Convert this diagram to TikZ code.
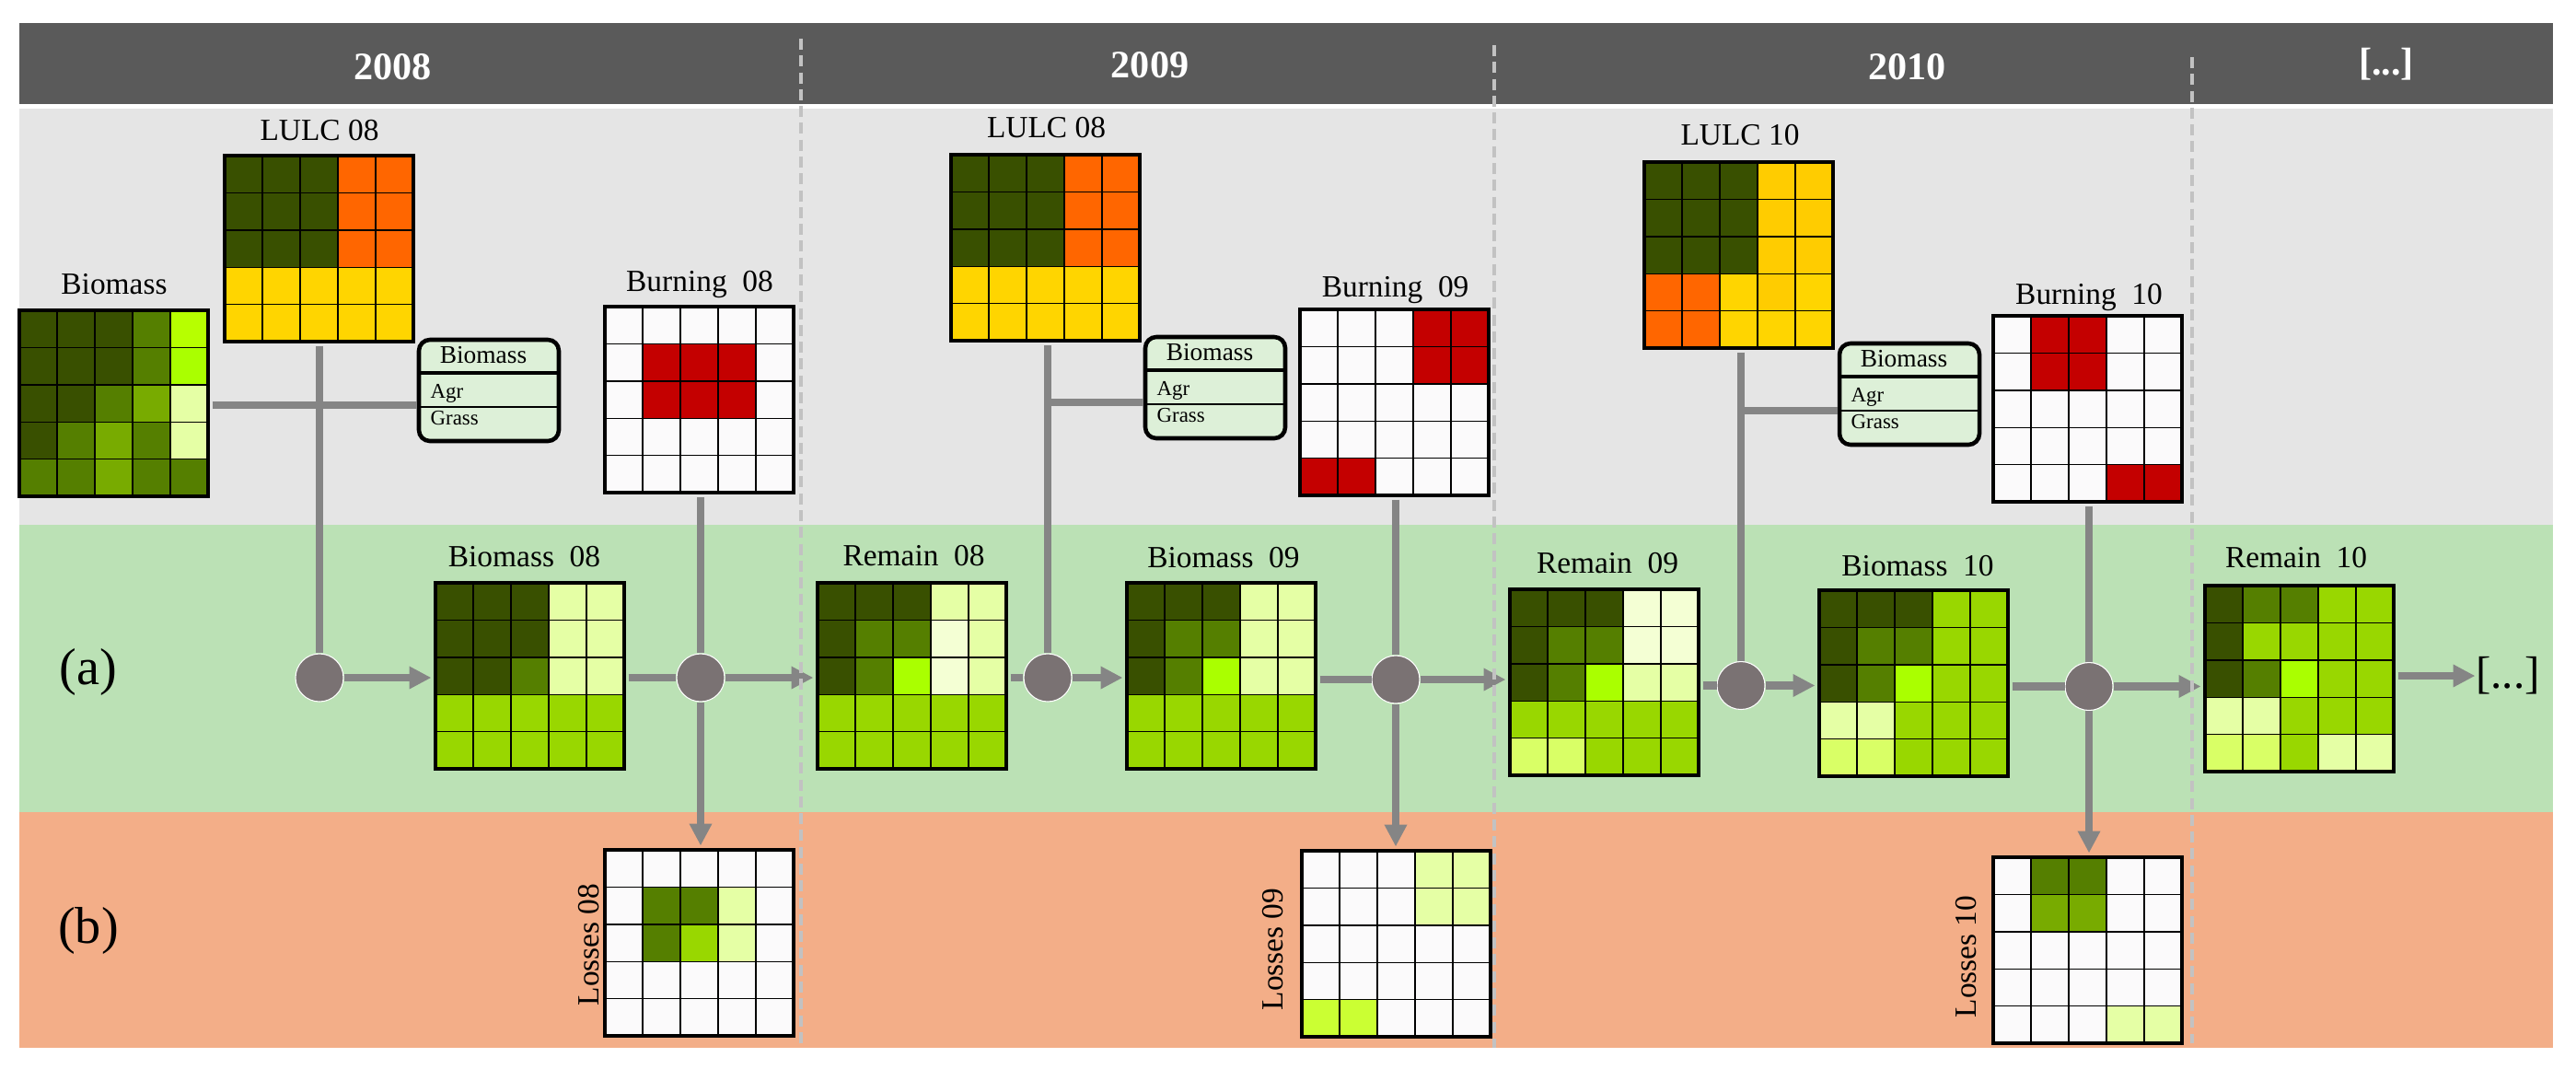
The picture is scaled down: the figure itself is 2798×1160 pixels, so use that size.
\documentclass[tikz,border=0pt]{standalone}
\usepackage{fontspec}
\setmainfont{Liberation Serif}
\usetikzlibrary{arrows.meta}

\definecolor{dk}{HTML}{395000}
\definecolor{md}{HTML}{557F00}
\definecolor{ol}{HTML}{78AB00}
\definecolor{lm}{HTML}{99D700}
\definecolor{br}{HTML}{B7FF00}
\definecolor{ac}{HTML}{AAFF00}
\definecolor{pl}{HTML}{E5FFA5}
\definecolor{fa}{HTML}{F4FFD4}
\definecolor{yl}{HTML}{D9FF66}
\definecolor{sh}{HTML}{CBFF33}
\definecolor{wh}{HTML}{FBFAFB}
\definecolor{rd}{HTML}{C40000}
\definecolor{or}{HTML}{FF6600}
\definecolor{gd}{HTML}{FFD500}
\definecolor{gc}{HTML}{FFCC00}
\definecolor{tabfill}{HTML}{DDF0D8}
\definecolor{linkgray}{HTML}{858585}
\definecolor{jointgray}{HTML}{7A7273}
\definecolor{dashgray}{HTML}{C2C2C2}
\definecolor{headband}{HTML}{5A5A5A}
\definecolor{greyband}{HTML}{E5E5E5}
\definecolor{greenband}{HTML}{BBE1B5}
\definecolor{orangeband}{HTML}{F3AE88}

\tikzset{
  gridcell/.style={draw=black, line width=.4pt},
  gridbox/.style={draw=black, line width=1pt, inner sep=0pt, outer sep=1.3pt,
    minimum width=205*.01cm, minimum height=202*.01cm},
  tabbox/.style={draw=black, line width=1.3pt, fill=tabfill, rounded corners=3.4pt,
    inner sep=0pt, outer sep=.6pt, minimum width=152*.01cm, minimum height=110*.01cm},
  gridname/.style={inner sep=0pt, text height=6.4pt, text depth=0pt, font=\fontsize{9.5}{11}\selectfont},
  tabtitle/.style={inner sep=0pt, font=\fontsize{7.8}{9}\selectfont},
  tabrow/.style={inner sep=0pt, anchor=west, font=\fontsize{6.5}{8}\selectfont},
  yearname/.style={inner sep=0pt, white, font=\fontsize{12}{14}\selectfont\bfseries},
  bandname/.style={inner sep=0pt, font=\fontsize{16}{18}\selectfont},
  link/.style={draw=linkgray, line width=2.3pt},
  flow/.style={link, -{Triangle[length=6.8pt,width=6.6pt]}},
  joint/.style={circle, draw=white, line width=.3pt, fill=jointgray, inner sep=0pt, minimum size=52*.01cm},
  yearline/.style={draw=dashgray, line width=1pt, dash pattern=on 3.4pt off 1.8pt},
}

% name, left, top, rows of cell colours
\newcommand{\gridmap}[4]{
  \foreach \rowcol [count=\nr] in {#4}
    \foreach \cellcol [count=\nc] in \rowcol
      \draw[gridcell, fill=\cellcol] ({#2+(\nc-1)*41},{#3+(\nr-1)*40.4}) rectangle +(41,40.4);
  \node[gridbox] (#1) at (#2+102.5,#3+101) {};
}
% name, left, top
\newcommand{\sumtable}[3]{
  \node[tabbox] (#1) at (#2+76,#3+55) {};
  \node[tabtitle] (#1t) at (#2+70,#3+17) {Biomass};
  \node[tabrow] (#1a) at (#2+12,#3+58) {Agr};
  \node[tabrow] (#1g) at (#2+12,#3+85) {Grass};
  \draw[line width=1.3pt] (#2,#3+36) -- (#2+152,#3+36);
  \draw[line width=.6pt] (#2,#3+73) -- (#2+152,#3+73);
}

\begin{document}
\begin{tikzpicture}[x=.01cm, y=-.01cm]
\useasboundingbox (0,0) rectangle (2798,1160);

% bands
\fill[headband] (21,25) rectangle (2773,113);
\fill[greyband] (21,118) rectangle (2773,570);
\fill[greenband] (21,570) rectangle (2773,881.5);
\fill[orangeband] (21,881.5) rectangle (2773,1138);

\node[yearname] (y08) at (426.5,73) {2008};
\node[yearname] (y09) at (1249,71) {2009};
\node[yearname] (y10) at (2071.5,73) {2010};
\node[yearname] (ymore) at (2592,70) {[...]};
\node[bandname] (ba) at (96,730) {(a)};
\node[bandname] (bb) at (96,1011) {(b)};

% 2008
\gridmap{bio}{21}{337}{{dk,dk,dk,md,br},{dk,dk,dk,md,ac},{dk,dk,md,ol,pl},{dk,md,ol,md,pl},{md,md,ol,md,md}}
\gridmap{lulcA}{244}{169}{{dk,dk,dk,or,or},{dk,dk,dk,or,or},{dk,dk,dk,or,or},{gd,gd,gd,gd,gd},{gd,gd,gd,gd,gd}}
\gridmap{burnA}{657}{333}{{wh,wh,wh,wh,wh},{wh,rd,rd,rd,wh},{wh,rd,rd,rd,wh},{wh,wh,wh,wh,wh},{wh,wh,wh,wh,wh}}
\gridmap{bioA}{473}{633}{{dk,dk,dk,pl,pl},{dk,dk,dk,pl,pl},{dk,dk,md,pl,pl},{lm,lm,lm,lm,lm},{lm,lm,lm,lm,lm}}
\gridmap{lossA}{657}{923}{{wh,wh,wh,wh,wh},{wh,md,md,pl,wh},{wh,md,lm,pl,wh},{wh,wh,wh,wh,wh},{wh,wh,wh,wh,wh}}
\sumtable{tabA}{455}{369}
\node[gridname] (tbio) at (124,308) {Biomass};
\node[gridname] (tlulcA) at (347,141) {LULC 08};
\node[gridname] (tburnA) at (760,305) {Burning\ \ 08};
\node[gridname] (tbioA) at (569.5,604) {Biomass\ \ 08};
\node[gridname, rotate=90] (tlossA) at (639,1026) {Losses 08};

% 2009
\gridmap{remA}{888}{633}{{dk,dk,dk,pl,pl},{dk,md,md,fa,pl},{dk,md,ac,fa,pl},{lm,lm,lm,lm,lm},{lm,lm,lm,lm,lm}}
\gridmap{lulcB}{1033}{168}{{dk,dk,dk,or,or},{dk,dk,dk,or,or},{dk,dk,dk,or,or},{gd,gd,gd,gd,gd},{gd,gd,gd,gd,gd}}
\gridmap{burnB}{1412}{336}{{wh,wh,wh,rd,rd},{wh,wh,wh,rd,rd},{wh,wh,wh,wh,wh},{wh,wh,wh,wh,wh},{rd,rd,wh,wh,wh}}
\gridmap{bioB}{1224}{633}{{dk,dk,dk,pl,pl},{dk,md,md,pl,pl},{dk,md,ac,pl,pl},{lm,lm,lm,lm,lm},{lm,lm,lm,lm,lm}}
\gridmap{lossB}{1414}{924}{{wh,wh,wh,pl,pl},{wh,wh,wh,pl,pl},{wh,wh,wh,wh,wh},{wh,wh,wh,wh,wh},{sh,sh,wh,wh,wh}}
\sumtable{tabB}{1244}{366}
\node[gridname] (tremA) at (992.6,603) {Remain\ \ 08};
\node[gridname] (tlulcB) at (1136.5,138) {LULC 08};
\node[gridname] (tburnB) at (1515.6,311) {Burning\ \ 09};
\node[gridname] (tbioB) at (1329,605) {Biomass\ \ 09};
\node[gridname, rotate=90] (tlossB) at (1382,1031) {Losses 09};

% 2010
\gridmap{remB}{1640}{640}{{dk,dk,dk,fa,fa},{dk,md,md,fa,fa},{dk,md,ac,pl,pl},{lm,lm,lm,lm,lm},{yl,yl,lm,lm,lm}}
\gridmap{lulcC}{1786}{176}{{dk,dk,dk,gc,gc},{dk,dk,dk,gc,gc},{dk,dk,dk,gc,gc},{or,or,gd,gc,gd},{or,or,gd,gd,gd}}
\gridmap{burnC}{2165}{343}{{wh,rd,rd,wh,wh},{wh,rd,rd,wh,wh},{wh,wh,wh,wh,wh},{wh,wh,wh,wh,wh},{wh,wh,wh,rd,rd}}
\gridmap{bioC}{1976}{641}{{dk,dk,dk,lm,lm},{dk,md,md,lm,lm},{dk,md,ac,lm,lm},{pl,pl,lm,lm,lm},{yl,yl,lm,lm,lm}}
\gridmap{lossC}{2165}{931}{{wh,md,md,wh,wh},{wh,ol,ol,wh,wh},{wh,wh,wh,wh,wh},{wh,wh,wh,wh,wh},{wh,wh,wh,pl,pl}}
\gridmap{remC}{2395}{636}{{dk,md,md,lm,lm},{dk,lm,lm,lm,lm},{dk,md,ac,lm,lm},{pl,pl,lm,lm,lm},{yl,yl,lm,pl,pl}}
\sumtable{tabC}{1998}{373}
\node[gridname] (tremB) at (1746,611) {Remain\ \ 09};
\node[gridname] (tlulcC) at (1890,146) {LULC 10};
\node[gridname] (tburnC) at (2269,319) {Burning\ \ 10};
\node[gridname] (tbioC) at (2083,614) {Biomass\ \ 10};
\node[gridname, rotate=90] (tlossC) at (2135,1039) {Losses 10};
\node[gridname] (tremC) at (2494,605) {Remain\ \ 10};
\node[bandname, font=\fontsize{14}{16}\selectfont] (more) at (2724,734) {[...]};

\node[joint] (cA) at (347,736) {};
\node[joint] (cB) at (761,736) {};
\node[joint] (cC) at (1138,736) {};
\node[joint] (cD) at (1516,738) {};
\node[joint] (cE) at (1891,744.5) {};
\node[joint] (cF) at (2269,745.5) {};
\coordinate (brA) at (347,440);
\coordinate (brB) at (1138,437);
\coordinate (brC) at (1891,446);

% connectors
\draw[link] (bio.east |- brA) -- (tabA.west |- brA);
\draw[link] (lulcA.south -| cA) -- (cA);
\draw[flow] (cA) -- (cA -| bioA.west);
\draw[link] (burnA.south -| cB) -- (cB);
\draw[link] (bioA.east |- cB) -- (cB);
\draw[flow] (cB) -- (cB -| remA.west);
\draw[flow] (cB) -- (cB |- lossA.north);

\draw[link] (brB) -- (tabB.west |- brB);
\draw[link] (lulcB.south -| cC) -- (cC);
\draw[link] (remA.east |- cC) -- (cC);
\draw[flow] (cC) -- (cC -| bioB.west);
\draw[link] (burnB.south -| cD) -- (cD);
\draw[link] (bioB.east |- cD) -- (cD);
\draw[flow] (cD) -- (cD -| remB.west);
\draw[flow] (cD) -- (cD |- lossB.north);

\draw[link] (brC) -- (tabC.west |- brC);
\draw[link] (lulcC.south -| cE) -- (cE);
\draw[link] (remB.east |- cE) -- (cE);
\draw[flow] (cE) -- (cE -| bioC.west);
\draw[link] (burnC.south -| cF) -- (cF);
\draw[link] (bioC.east |- cF) -- (cF);
\draw[flow] (cF) -- (cF -| remC.west);
\draw[flow] (cF) -- (cF |- lossC.north);
\draw[flow] (remC.east |- more) -- (more);

% year limits
\draw[yearline] (870,42) -- (870,1138);
\draw[yearline] (1623,49) -- (1623,1138);
\draw[yearline] (2381,62) -- (2381,1133);
\end{tikzpicture}
\end{document}
